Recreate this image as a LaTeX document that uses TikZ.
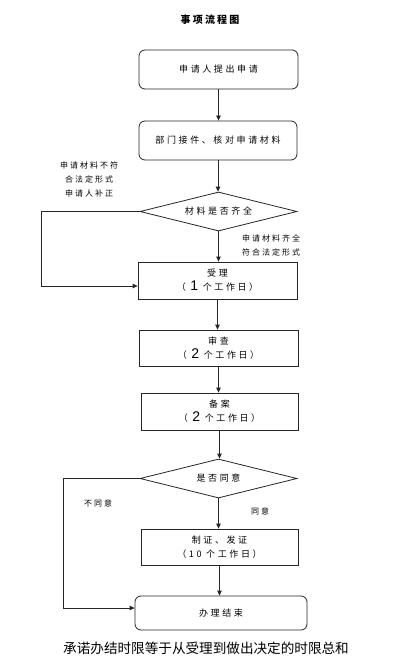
\documentclass[tikz,border=0pt]{standalone}
\usepackage{fontspec}
\newfontfamily\cjk[LetterSpace=29]{Noto Sans CJK SC}
\newfontfamily\cjklab[LetterSpace=25]{Noto Sans CJK SC}
\newfontfamily\cjktitle[LetterSpace=22]{Noto Sans CJK SC}
\newfontfamily\cjkplain{Noto Sans CJK SC}
\newfontfamily\latin{Liberation Sans}
\usetikzlibrary{shapes.geometric,arrows.meta}
\tikzset{
  box/.style={draw=black!85, line width=0.8pt, inner sep=0pt, align=center,
    font=\cjk\fontsize{9}{14}\selectfont},
  rbox/.style={box, rounded corners=6pt},
  decision/.style={box, diamond, aspect=4},
  arr/.style={-{Triangle[length=5pt,width=4.5pt]}, line width=0.8pt, draw=black!85},
  lne/.style={line width=0.8pt, draw=black!85},
  lab/.style={font=\cjklab\fontsize{8}{14}\selectfont, align=center, inner sep=0pt},
}
\newcommand{\bigdig}[1]{{\latin\fontsize{14}{14}\selectfont #1}}
\begin{document}
\begin{tikzpicture}[x=1pt,y=-1pt]
\useasboundingbox (0,0) rectangle (408,663);
\fill[white] (0,0) rectangle (408,663);
\node[font=\cjktitle\bfseries\fontsize{10}{12}\selectfont, inner sep=0pt] (title) at (210,20) {事项流程图};
\node[rbox, minimum width=159pt, minimum height=39pt] (b1) at (218.5,69.5) {申请人提出申请};
\node[rbox, minimum width=158pt, minimum height=39pt] (b2) at (218,140.5) {部门接件、核对申请材料};
\node[decision, minimum width=157pt, minimum height=39pt] (d1) at (218.5,211.5) {材料是否齐全};
\node[box, minimum width=159pt, minimum height=37pt] (b3) at (217.5,280.5) {受理\\（ \bigdig{1} 个工作日）};
\node[box, minimum width=159pt, minimum height=36pt] (b4) at (218.5,348) {审查\\（ \bigdig{2} 个工作日）};
\node[box, minimum width=157pt, minimum height=37pt] (b5) at (219.5,411.5) {备案\\（ \bigdig{2} 个工作日）};
\node[decision, minimum width=157pt, minimum height=39pt] (d2) at (218.5,478.5) {是否同意};
\node[box, minimum width=157pt, minimum height=36pt] (b6) at (219.5,547) {制证、发证\\（10 个工作日）};
\node[rbox, minimum width=172pt, minimum height=34pt] (b7) at (221,613) {办理结束};

\node[lab] (l1) at (89,179) {申请材料不符\\合法定形式\\申请人补正};
\node[lab] (l2) at (271,245.5) {申请材料齐全\\符合法定形式};
\node[lab] (l3) at (98,503) {不同意};
\node[lab] (l4) at (260,511) {同意};
\node[font=\cjkplain\fontsize{13.6}{16}\selectfont, inner sep=0pt] (note) at (206,648) {承诺办结时限等于从受理到做出决定的时限总和};

\draw[arr] (b1.south) -- (b1.south |- b2.north);
\draw[arr] (b2.south) -- (b2.south |- d1.north);
\draw[arr] (d1.south) -- (d1.south |- b3.north);
\draw[arr] (b3.south) -- (b3.south |- b4.north);
\draw[arr] (b4.south) -- (b4.south |- b5.north);
\draw[arr] (b5.south) -- (b5.south |- d2.north);
\draw[arr] (d2.south) -- (d2.south |- b6.north);
\draw[arr] (b6.south) -- (b6.south |- b7.north);

\coordinate (c1) at (41,211.5);
\coordinate (c2) at (41,286);
\draw[lne] (d1.west) -- (c1) -- (c2);
\draw[arr] (c2) -- (b3.west |- c2);
\coordinate (c3) at (63,478.5);
\coordinate (c4) at (63,608);
\draw[lne] (d2.west) -- (c3) -- (c4);
\draw[arr] (c4) -- (b7.west |- c4);
\end{tikzpicture}
\end{document}
